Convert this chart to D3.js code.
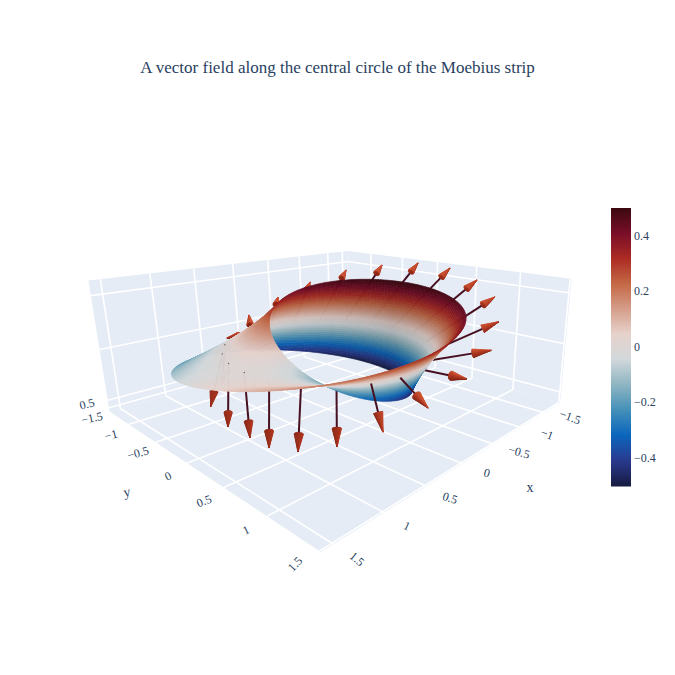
<!DOCTYPE html><html><head><meta charset="utf-8"><script src="https://d3js.org/d3.v7.min.js"></script></head><body style="margin:0;background:#fff"><svg id="chart" width="675" height="675" style="display:block" font-family="'Liberation Serif','Times New Roman',serif"></svg><script>
// ---- data ----
const chartTitle='A vector field along the central circle of the Moebius strip';
const xTicks=[-1.5,-1,-0.5,0,0.5,1,1.5];
const yTicks=[-1.5,-1,-0.5,0,0.5,1,1.5];
const zTicks=[-0.5,0,0.5];
const colorbarTicks=[-0.4,-0.2,0,0.2,0.4];
// boundary of the strip: one closed curve running twice around the hole
const edgeX=[1.5,1.445,1.284,1.034,0.717,0.361,0,-0.338,-0.625,-0.842,-0.978,-1.029,-1,-0.903,-0.754,-0.572,-0.375,-0.18,0,0.156,0.283,0.38,0.448,0.487,0.5,0.487,0.448,0.38,0.283,0.156,0,-0.18,-0.375,-0.572,-0.754,-0.903,-1,-1.029,-0.978,-0.842,-0.625,-0.338,0,0.361,0.717,1.034,1.284,1.445];
const edgeY=[0,0.387,0.741,1.034,1.241,1.349,1.354,1.26,1.083,0.842,0.565,0.276,0,-0.242,-0.435,-0.572,-0.65,-0.672,-0.646,-0.583,-0.491,-0.38,-0.259,-0.131,0,0.131,0.259,0.38,0.491,0.583,0.646,0.672,0.65,0.572,0.435,0.242,0,-0.276,-0.565,-0.842,-1.083,-1.26,-1.354,-1.349,-1.241,-1.034,-0.741,-0.387];
const edgeZ=[0,0.065,0.129,0.191,0.25,0.304,0.354,0.397,0.433,0.462,0.483,0.496,0.5,0.496,0.483,0.462,0.433,0.397,0.354,0.304,0.25,0.191,0.129,0.065,0,-0.065,-0.129,-0.191,-0.25,-0.304,-0.354,-0.397,-0.433,-0.462,-0.483,-0.496,-0.5,-0.496,-0.483,-0.462,-0.433,-0.397,-0.354,-0.304,-0.25,-0.191,-0.129,-0.065];
// arrows: foot on the central circle, tip
const footX=[1,0.959,0.841,0.655,0.415,0.142,-0.142,-0.415,-0.655,-0.841,-0.959,-1,-0.959,-0.841,-0.655,-0.415,-0.142,0.142,0.415,0.655,0.841,0.959];
const footY=[0,0.282,0.541,0.756,0.91,0.99,0.99,0.91,0.756,0.541,0.282,0,-0.282,-0.541,-0.756,-0.91,-0.99,-0.99,-0.91,-0.756,-0.541,-0.282];
const tipX=[1,0.986,0.902,0.695,0.489,0.231,-0.11,-0.618,-1.042,-1.627,-1.784,-1.88,-1.863,-1.719,-1.435,-1.029,-0.55,0.028,0.451,0.615,0.97,0.95];
const tipY=[0.018,0.262,0.538,0.787,1.096,1.331,1.449,1.356,1.177,0.797,0.492,0.093,-0.328,-0.747,-1.073,-1.289,-1.335,-1.158,-1.004,-0.923,-0.62,-0.384];
const tipZ=[-0.608,-0.618,-0.579,-0.512,-0.337,-0.134,0.05,0.15,0.285,0.356,0.464,0.529,0.538,0.482,0.418,0.299,0.185,0.109,-0.029,-0.481,-0.52,-0.658];
const frontArrows=[4,5];       // drawn over the surface
const pokingFeet=[19,20,21,0]; // feet that show as specks on the surface
const balanceColors=['rgb(23,28,66)','rgb(41,58,143)','rgb(11,102,189)','rgb(69,144,185)','rgb(142,181,194)','rgb(210,216,219)','rgb(230,210,204)','rgb(213,157,137)','rgb(196,104,70)','rgb(172,43,36)','rgb(120,14,40)','rgb(60,9,17)'];

// ---- layout ----
const ink='#2a3f5f',wall='#e5ecf6',W=675;
const dot=(a,b)=>a[0]*b[0]+a[1]*b[1]+a[2]*b[2];
function makeView(o){
 const sx=d3.scaleLinear(o.x,[-1,1]),sy=d3.scaleLinear(o.y,[-1,1]),sz=d3.scaleLinear(o.z,[-o.az,o.az]);
 const f0=o.eye.map((e,i)=>o.tgt[i]-e),fn=Math.hypot(...f0),F=f0.map(d=>d/fn);
 let R=[F[1],-F[0],0];const rn=Math.hypot(...R);R=R.map(d=>d/rn);
 const U=[R[1]*F[2]-R[2]*F[1],R[2]*F[0]-R[0]*F[2],R[0]*F[1]-R[1]*F[0]];
 const cr=Math.cos(o.roll),sr=Math.sin(o.roll);
 const toScreen=q=>{const d=[q[0]-o.eye[0],q[1]-o.eye[1],q[2]-o.eye[2]];const X=dot(d,R),Y=dot(d,U),Z=dot(d,F);return [o.cx+o.K*(X*cr+Y*sr)/Z,o.cy-o.K*(-X*sr+Y*cr)/Z,Z];};
 const toScene=(x,y,z)=>[sx(x),sy(y),sz(z)];
 return {toScreen,toScene,P:(x,y,z)=>toScreen(toScene(x,y,z))};
}
const boxView=makeView({eye:[2.119,2.42,0.953],tgt:[-0.453,0.181,-0.058],roll:0.008,K:544.51,cx:410.087,cy:344.825,az:0.406,x:[-1.875,1.611],y:[-1.405,1.513],z:[-0.614,0.636]});
const plotView=makeView({eye:[2.338,2.534,1.104],tgt:[-0.041,0.013,-0.011],roll:-0.018,K:597.5,cx:337.5,cy:347.5,az:0.4,x:[-1.71,1.61],y:[-1.5,1.52],z:[-0.635,0.63]});
const x0=-1.875,x1=1.611,y0=-1.405,y1=1.513,z0=-0.614,z1=0.636;
const {toScreen,toScene,P}=plotView;
const color=d3.scaleLinear().domain(balanceColors.map((c,i)=>-0.5+i/(balanceColors.length-1))).range(balanceColors);
const svg=d3.select('#chart');
const line=d3.line();
const poly=pts=>line(pts.map(p=>[p[0],p[1]]))+'Z';

svg.append('text').attr('x',W/2).attr('y',72.5).attr('text-anchor','middle').attr('font-size',17).attr('fill',ink).text(chartTitle);

// walls and grid
const walls=[[[x0,y0,z0],[x1,y0,z0],[x1,y1,z0],[x0,y1,z0]],[[x0,y0,z0],[x1,y0,z0],[x1,y0,z1],[x0,y0,z1]],[[x0,y0,z0],[x0,y1,z0],[x0,y1,z1],[x0,y0,z1]]];
svg.append('g').selectAll('path').data(walls).join('path').attr('d',w=>poly(w.map(p=>boxView.P(...p)))).attr('fill',wall);
const grid=[];
xTicks.forEach(v=>{grid.push([[v,y0,z0],[v,y1,z0]],[[v,y0,z0],[v,y0,z1]]);});
yTicks.forEach(v=>{grid.push([[x0,v,z0],[x1,v,z0]],[[x0,v,z0],[x0,v,z1]]);});
zTicks.forEach(v=>{grid.push([[x0,y0,v],[x1,y0,v]],[[x0,y0,v],[x0,y1,v]]);});
svg.append('g').attr('stroke','#fff').attr('stroke-width',1.6).selectAll('path').data(grid).join('path').attr('d',g=>line(g.map(p=>boxView.P(...p).slice(0,2))));

// tick labels
const minus=v=>String(v).replace('-','\u2212');
const tickFace=(g,d)=>g.append('text').attr('transform',`translate(${d.p[0]},${d.p[1]}) rotate(${d.r})`).attr('text-anchor','middle').attr('dominant-baseline','central').attr('font-size',d.s||12).attr('fill',ink).text(d.t);
const xLabelAt=[[570,417],[547,434],[519,452],[487,473],[450,498],[407,526],[357,559]],xTilt=[20,20,15,15,18,25,40];
const yLabelAt=[[92,418],[111,435],[138,453],[168,476],[204,501],[246,530],[295,564]],yTilt=[-12,-15,-15,-25,-22,-25,-47];
const labels=svg.append('g');
xTicks.forEach((v,i)=>tickFace(labels,{p:xLabelAt[i],r:xTilt[i],t:minus(v)}));
yTicks.forEach((v,i)=>tickFace(labels,{p:yLabelAt[i],r:yTilt[i],t:minus(v)}));
tickFace(labels,{p:[87,404],r:-15,t:'0.5'});
tickFace(labels,{p:[530,487],r:0,t:'x',s:14});
tickFace(labels,{p:[127,492],r:-10,t:'y',s:14});

// arrows
const arrows=footX.map((_,i)=>({i,foot:[footX[i],footY[i],0],tip:[tipX[i],tipY[i],tipZ[i]]}));
const coneLen=0.1,coneRad=0.024,facets=18;
const light=[-0.35,0.25,0.9].map(d=>d/Math.hypot(0.35,0.25,0.9));
const coneShade=d3.scaleLinear([-1,0,1],['#7a2214','#a9341f','#d45a38']).clamp(true);
function drawArrow(g,a){
 const A=toScene(...a.foot),T=toScene(...a.tip);let d=[T[0]-A[0],T[1]-A[1],T[2]-A[2]];const n=Math.hypot(...d);d=d.map(v=>v/n);
 const C=T.map((v,k)=>v-d[k]*coneLen);
 const h=Math.abs(d[2])<0.9?[0,0,1]:[1,0,0];let e1=[d[1]*h[2]-d[2]*h[1],d[2]*h[0]-d[0]*h[2],d[0]*h[1]-d[1]*h[0]];const en=Math.hypot(...e1);e1=e1.map(v=>v/en);
 const e2=[d[1]*e1[2]-d[2]*e1[1],d[2]*e1[0]-d[0]*e1[2],d[0]*e1[1]-d[1]*e1[0]];
 const ring=t=>C.map((v,k)=>v+coneRad*(Math.cos(t)*e1[k]+Math.sin(t)*e2[k]));
 const a2=toScreen(A),c2=toScreen(C);
 g.append('path').attr('d',line([a2.slice(0,2),c2.slice(0,2)])).attr('stroke','#471020').attr('stroke-width',2).attr('fill','none');
 const tris=d3.range(facets).map(j=>{const t0=j/facets*2*Math.PI,t1=(j+1)/facets*2*Math.PI,r0=ring(t0),r1=ring(t1),pts=[r0,r1,T].map(toScreen),tm=(t0+t1)/2;
  const nn=[0,1,2].map(k=>Math.cos(tm)*e1[k]+Math.sin(tm)*e2[k]+d[k]*coneRad/coneLen);return {pts,depth:d3.mean(pts,p=>p[2]),shade:dot(nn,light)/Math.hypot(...nn)};}).sort((u,v)=>v.depth-u.depth);
 g.append('path').attr('d',poly(d3.range(facets).map(j=>toScreen(ring(j/facets*2*Math.PI))))).attr('fill','#8a2a18');
 g.selectAll(null).data(tris).join('path').attr('d',q=>poly(q.pts)).attr('fill',q=>coneShade(q.shade)).attr('stroke',q=>coneShade(q.shade)).attr('stroke-width',0.3);
}
const backG=svg.append('g');
arrows.filter(a=>!frontArrows.includes(a.i)).sort((p,q)=>P(...q.foot)[2]-P(...p.foot)[2]).forEach(a=>drawArrow(backG,a));

// surface
const N=edgeX.length;
function catmull(arr,t){const i=Math.floor(t),f=t-i,g=k=>arr[((i+k)%N+N)%N];return 0.5*((2*g(0))+(-g(-1)+g(1))*f+(2*g(-1)-5*g(0)+4*g(1)-g(2))*f*f+(-g(-1)+3*g(0)-3*g(1)+g(2))*f*f*f);}
const rim=t=>[catmull(edgeX,t),catmull(edgeY,t),catmull(edgeZ,t)];
const NU=192,NV=36,quads=[];
const mesh=(i,j)=>{const t=i/NU*N/2,a=rim(t),b=rim(t+N/2),v=j/NV;return a.map((c,k)=>c+(b[k]-c)*v);};
function shaded(z,c){const a=toScene(...c[2]),b=toScene(...c[0]),e=toScene(...c[3]),g=toScene(...c[1]);const d1=[a[0]-b[0],a[1]-b[1],a[2]-b[2]],d2=[e[0]-g[0],e[1]-g[1],e[2]-g[2]];const n=[d1[1]*d2[2]-d1[2]*d2[1],d1[2]*d2[0]-d1[0]*d2[2],d1[0]*d2[1]-d1[1]*d2[0]];const up=Math.abs(n[2])/Math.hypot(...n);const k=0.82+0.18*up;const r=d3.rgb(color(z));return `rgb(${r.r*k},${r.g*k},${r.b*k})`;}
for(let i=0;i<NU;i++)for(let j=0;j<NV;j++){const c=[mesh(i,j),mesh(i+1,j),mesh(i+1,j+1),mesh(i,j+1)],s=c.map(p=>P(...p));const z=d3.mean(c,p=>p[2]);quads.push({s,col:shaded(z,c),depth:d3.mean(s,p=>p[2])});}
quads.sort((a,b)=>b.depth-a.depth);
svg.append('g').selectAll('path').data(quads).join('path').attr('d',q=>poly(q.s)).attr('fill',q=>q.col).attr('stroke',q=>q.col).attr('stroke-width',0.6);

// specks and front arrows
svg.append('g').selectAll('circle').data(pokingFeet).join('circle').attr('cx',i=>P(footX[i],footY[i],0)[0]).attr('cy',i=>P(footX[i],footY[i],0)[1]).attr('r',0.7).attr('fill','#6b5a5a');
const frontG=svg.append('g');
arrows.filter(a=>frontArrows.includes(a.i)).forEach(a=>drawArrow(frontG,a));

// colorbar
const cbY=d3.scaleLinear([-0.5,0.5],[485.5,208]);
const bar=svg.append('g');
bar.selectAll('rect').data(d3.range(0,278)).join('rect').attr('x',611).attr('width',20).attr('y',k=>208+k).attr('height',1.5).attr('fill',k=>color(cbY.invert(208+k+0.5)));
bar.selectAll('text').data(colorbarTicks).join('text').attr('x',634).attr('y',v=>cbY(v)).attr('dominant-baseline','central').attr('font-size',12).attr('fill',ink).text(minus);
</script></body></html>
